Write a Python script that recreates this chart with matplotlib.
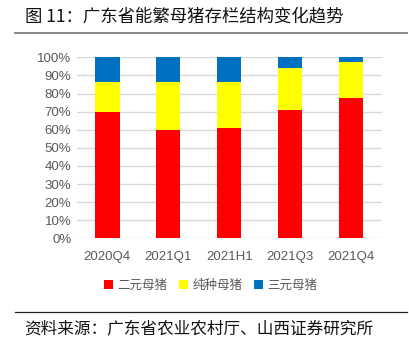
import numpy as np
import matplotlib.pyplot as plt
from matplotlib.lines import Line2D
from matplotlib.ticker import FuncFormatter

plt.rcParams['font.family'] = ['Liberation Sans', 'Noto Sans CJK SC', 'DejaVu Sans']

periods = ['2020Q4', '2021Q1', '2021H1', '2021Q3', '2021Q4']
erhyuan = [69.6, 59.7, 60.8, 70.9, 77.7]   # 二元母猪
chunzhong = [16.6, 26.7, 25.7, 23.4, 19.5]  # 纯种母猪
sanyuan = [13.8, 13.6, 13.5, 5.7, 2.8]     # 三元母猪

names = ['二元母猪', '纯种母猪', '三元母猪']
colors = ['#FF0000', '#FFFF00', '#0070C0']

fig = plt.figure(figsize=(4.09, 3.52), dpi=100)
ax = fig.add_axes([0.188, 0.323, 0.745, 0.514])

x = np.arange(len(periods))
w = 0.4
bottom = np.zeros(len(periods))
for vals, c, n in zip([erhyuan, chunzhong, sanyuan], colors, names):
    ax.bar(x, vals, w, bottom=bottom, color=c, label=n, zorder=3)
    bottom += np.array(vals)

ax.set_xlim(-0.5, len(periods) - 0.5)
ax.set_ylim(0, 100)
ax.set_yticks(np.arange(0, 101, 10))
ax.yaxis.set_major_formatter(FuncFormatter(lambda v, p: f'{v:.0f}%'))
ax.set_xticks(x)
ax.set_xticklabels(periods)
ax.grid(axis='y', color='#D9D9D9', lw=1, zorder=0)
for s in ax.spines.values():
    s.set_visible(False)
ax.tick_params(length=0, labelsize=9.5, colors='#595959', pad=4)
ax.tick_params(axis='x', pad=9)

leg = fig.legend(loc='center', bbox_to_anchor=(0.515, 0.19), ncol=3, frameon=False,
                 fontsize=9, handlelength=0.7, handleheight=0.7, handletextpad=0.4,
                 columnspacing=0.9)
for t in leg.get_texts():
    t.set_color('#595959')
    t.set_family(['Noto Sans CJK SC', 'DejaVu Sans'])

fig.text(0.06, 0.952, '图 11：广东省能繁母猪存栏结构变化趋势', fontsize=12.5,
         family=['Noto Sans CJK SC', 'DejaVu Sans'], va='center', color='#111111')
fig.add_artist(Line2D([0.037, 0.995], [0.905, 0.905], color='#808080', lw=1.3))
fig.add_artist(Line2D([0.037, 0.995], [0.113, 0.113], color='#222222', lw=0.9))
fig.text(0.06, 0.062, '资料来源：广东省农业农村厅、山西证券研究所', fontsize=12,
         family=['Noto Sans CJK SC', 'DejaVu Sans'], va='center', color='#111111')

fig.savefig('out.png', dpi=100)
